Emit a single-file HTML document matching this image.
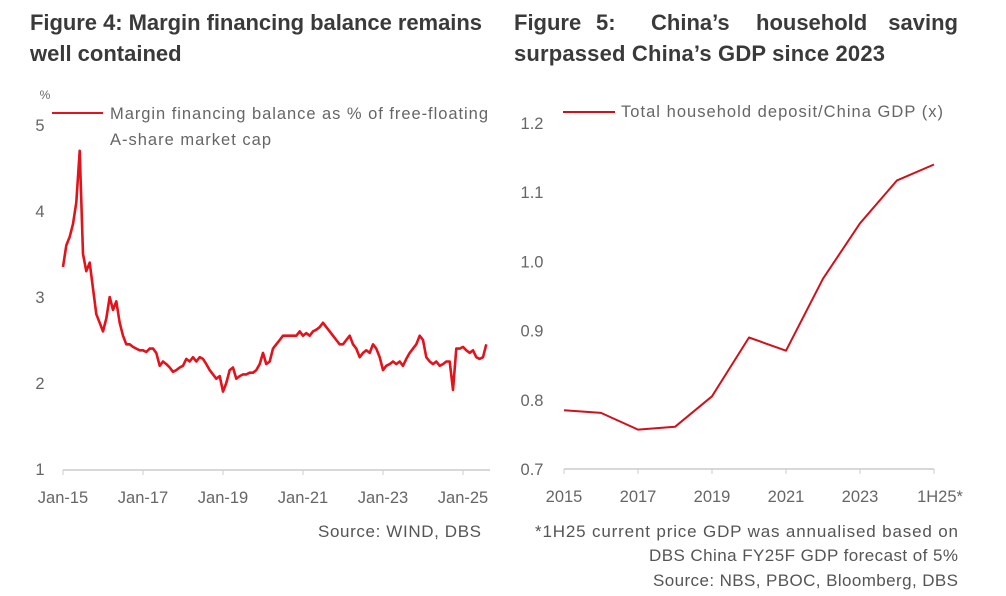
<!DOCTYPE html>
<html><head><meta charset="utf-8"><style>
body{margin:0;background:#fff;width:1006px;height:596px;overflow:hidden;font-family:"Liberation Sans",sans-serif}
svg{position:absolute;left:0;top:0}
.t{font-family:"Liberation Sans",sans-serif;font-size:22px;font-weight:bold;fill:#3a3a3a;letter-spacing:0px}
.k{font-size:16.5px;fill:#666}
.s{font-size:17px;fill:#555}
</style></head><body>
<svg width="1006" height="596">
<text class="t" x="30" y="30" textLength="452" lengthAdjust="spacing">Figure 4: Margin financing balance remains</text>
<text class="t" x="30" y="61">well contained</text>
<g>
<text class="t" x="514" y="30">Figure</text>
<text class="t" x="596" y="30">5:</text>
<text class="t" x="651" y="30">China’s</text>
<text class="t" x="756" y="30">household</text>
<text class="t" x="958" y="30" text-anchor="end">saving</text>
</g>
<text class="t" x="514" y="61" textLength="371" lengthAdjust="spacing">surpassed China’s GDP since 2023</text>
<g id="left"></g>
<g id="right"></g>
<text class="s" x="318" y="537" textLength="163" lengthAdjust="spacing">Source:  WIND, DBS</text>
<text class="s" x="535" y="537" textLength="423" lengthAdjust="spacing">*1H25 current price GDP was annualised based on</text>
<text class="s" x="649" y="561" textLength="309" lengthAdjust="spacing">DBS China FY25F GDP forecast of 5%</text>
<text class="s" x="653" y="586" textLength="305" lengthAdjust="spacing">Source: NBS, PBOC, Bloomberg, DBS</text>
</svg>
<script>
const marginVals=[3.35,3.6,3.7,3.85,4.1,4.7,3.5,3.3,3.4,3.1,2.8,2.7,
2.6,2.75,3.0,2.85,2.95,2.7,2.55,2.45,2.45,2.42,2.4,2.38,
2.38,2.36,2.4,2.4,2.35,2.2,2.25,2.22,2.18,2.13,2.15,2.18,
2.2,2.28,2.25,2.3,2.25,2.3,2.28,2.22,2.15,2.1,2.05,2.08,
1.9,2.0,2.15,2.18,2.05,2.08,2.1,2.1,2.12,2.12,2.15,2.22,
2.35,2.22,2.25,2.4,2.45,2.5,2.55,2.55,2.55,2.55,2.55,2.6,
2.55,2.58,2.55,2.6,2.62,2.65,2.7,2.65,2.6,2.55,2.5,2.45,
2.45,2.5,2.55,2.45,2.4,2.3,2.35,2.38,2.35,2.45,2.4,2.3,
2.15,2.2,2.22,2.25,2.22,2.25,2.2,2.28,2.35,2.4,2.45,2.55,
2.5,2.3,2.25,2.22,2.25,2.2,2.22,2.25,2.25,1.92,2.4,2.4,
2.42,2.38,2.35,2.38,2.3,2.28,2.3,2.45];
const leftYTicks=[1,2,3,4,5];
const leftXLabels=["Jan-15","Jan-17","Jan-19","Jan-21","Jan-23","Jan-25"];
const depYears=["2015","2016","2017","2018","2019","2020","2021","2022","2023","2024","1H25*"];
const depVals=[0.785,0.781,0.757,0.761,0.805,0.89,0.871,0.975,1.055,1.117,1.14];
const rightYTicks=[0.7,0.8,0.9,1.0,1.1,1.2];
const rightXLabels=["2015","2017","2019","2021","2023","1H25*"];
const NS="http://www.w3.org/2000/svg";
function mk(p,tag,a,txt){const e=document.createElementNS(NS,tag);for(const k in a)e.setAttribute(k,a[k]);if(txt!=null)e.textContent=txt;p.appendChild(e);return e;}
const L=document.getElementById('left');
const lx=m=>63+m*40/12, ly=v=>469-(v-1)*86;
let e=mk(L,'line',{x1:63,x2:490,y1:470,y2:470,stroke:'#ccc','stroke-width':1.5});

leftYTicks.forEach(v=>{const t=mk(L,'text',{x:40,y:ly(v)+6,'text-anchor':'middle',class:'k'},String(v));
});
leftXLabels.forEach((s,i)=>{const x=lx(i*24);mk(L,'line',{x1:x,x2:x,y1:470,y2:475,stroke:'#ccc'});
const t=mk(L,'text',{x:x,y:503,'text-anchor':'middle',class:'k'},s);
});
e=mk(L,'text',{x:45,y:99,'text-anchor':'middle',style:'font-size:12px;fill:#666'},'%');

e=mk(L,'path',{d:marginVals.map((v,i)=>(i?'L':'M')+lx(i).toFixed(1)+','+ly(v).toFixed(1)).join(''),fill:'none',stroke:'#e3121b','stroke-width':2.6,'stroke-linejoin':'round'});

e=mk(L,'line',{x1:52,x2:103,y1:113,y2:113,stroke:'#e3121b','stroke-width':2});

e=mk(L,'text',{x:110,y:119,class:'k',textLength:378,lengthAdjust:'spacing'},'Margin financing balance as % of free-floating');

e=mk(L,'text',{x:110,y:145,class:'k',textLength:161,lengthAdjust:'spacing'},'A-share market cap');

const R=document.getElementById('right');
const rx=i=>564+i*37, ry=v=>469-(v-0.7)*692;
e=mk(R,'line',{x1:564,x2:934,y1:469,y2:469,stroke:'#ccc','stroke-width':1.5});

rightYTicks.forEach(v=>{const t=mk(R,'text',{x:532,y:ry(v)+6,'text-anchor':'middle',class:'k'},v.toFixed(1));
});
rightXLabels.forEach((s,i)=>{const x=rx(i*2);mk(R,'line',{x1:x,x2:x,y1:469,y2:474,stroke:'#ccc'});
const t=mk(R,'text',{x:x+(i==5?6:0),y:502,'text-anchor':'middle',class:'k'},s);
});
e=mk(R,'path',{d:depVals.map((v,i)=>(i?'L':'M')+rx(i)+','+ry(v).toFixed(1)).join(''),fill:'none',stroke:'#d0111a','stroke-width':2,'stroke-linejoin':'round'});

e=mk(R,'line',{x1:563,x2:615,y1:112,y2:112,stroke:'#d0111a','stroke-width':2});

e=mk(R,'text',{x:621,y:117,class:'k',textLength:322,lengthAdjust:'spacing'},'Total household deposit/China GDP (x)');

</script>
</body></html>
